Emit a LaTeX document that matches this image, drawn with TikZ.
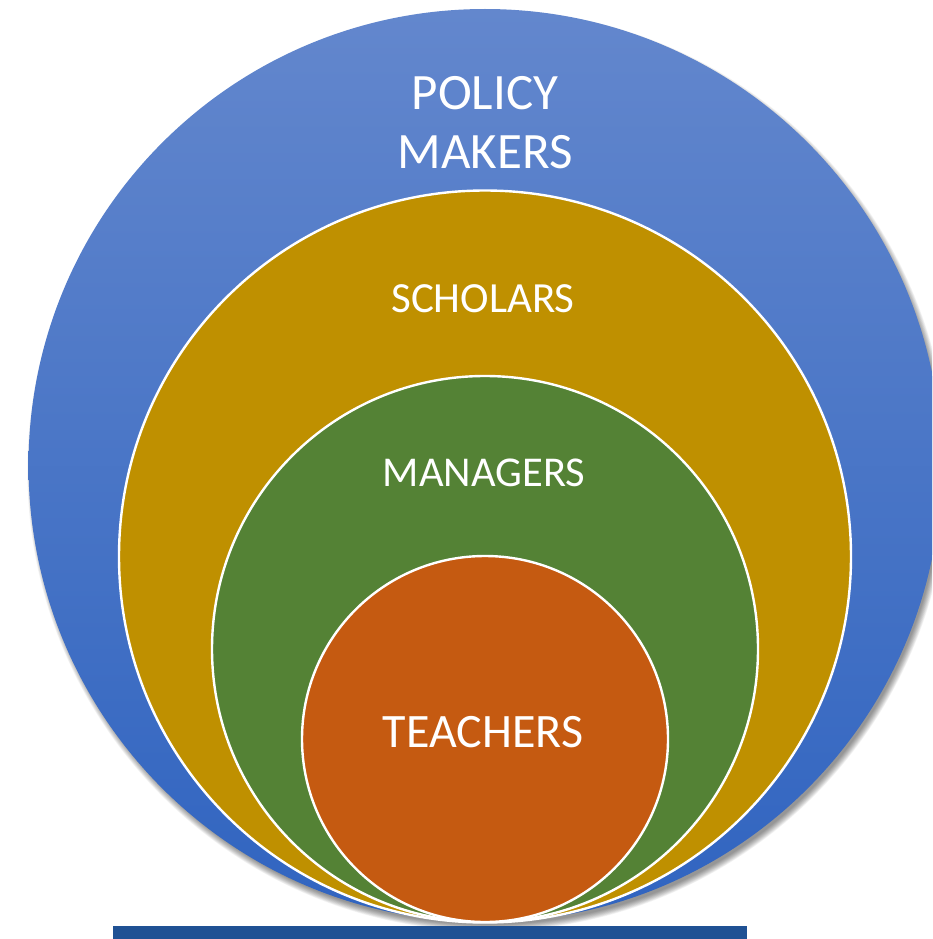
\documentclass[tikz,border=0pt]{standalone}
\usepackage{fontspec}
\setmainfont{Carlito}
\definecolor{bluetop}{HTML}{6387CD}
\definecolor{bluebot}{HTML}{3064C0}
\definecolor{goldc}{HTML}{BF9000}
\definecolor{greenc}{HTML}{548235}
\definecolor{orangec}{HTML}{C55A11}
\definecolor{barc}{HTML}{1F5194}
\tikzset{
  ring/.style={draw=white, line width=2.4pt},
  lbl/.style={text=white, inner sep=0pt, anchor=base, align=center},
}
\begin{document}
\begin{tikzpicture}[x=1pt,y=-1pt]
\useasboundingbox (0,0) rectangle (932,939);
\clip (0,0) rectangle (932,939);
% soft shadow
\foreach \i in {1,...,12}{
  \fill[black, opacity=0.045] (488,470.5) circle ({453.5+\i*0.6});
}
\shade[top color=bluetop, bottom color=bluebot] (485,465.5) circle (456.5);
\node[circle, minimum size=913pt, inner sep=0pt] (policy) at (485,465.5) {};
\node[circle, ring, fill=goldc, minimum size=732pt, inner sep=0pt] (scholars) at (485,556.5) {};
\node[circle, ring, fill=greenc, minimum size=546pt, inner sep=0pt] (managers) at (485,649) {};
\node[circle, ring, fill=orangec, minimum size=366pt, inner sep=0pt] (teachers) at (485,739) {};
\node[lbl, font=\fontsize{51}{59}\selectfont] (tpolicy) at (485,168) {POLICY\\MAKERS};
\node[lbl, font=\fontsize{43}{51}\selectfont] (tscholars) at (483,312) {SCHOLARS};
\node[lbl, font=\fontsize{42.5}{51}\selectfont] (tmanagers) at (484,486) {MANAGERS};
\node[lbl, font=\fontsize{48}{56}\selectfont] (tteachers) at (483,747) {TEACHERS};
\fill[barc] (113,926) rectangle (747,939);
\end{tikzpicture}
\end{document}
